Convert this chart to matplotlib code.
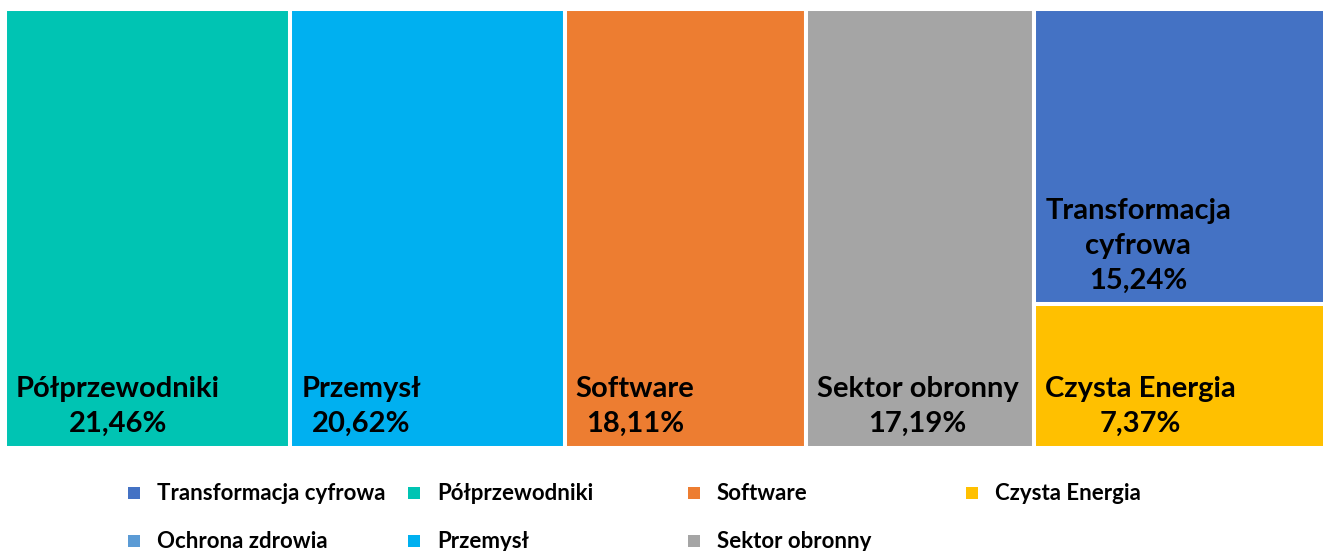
import matplotlib
matplotlib.use("Agg")
import matplotlib.pyplot as plt
from matplotlib.patches import Rectangle

plt.rcParams['font.family'] = ['Lato', 'DejaVu Sans']

# Data
categories = ["Półprzewodniki", "Przemysł", "Software", "Sektor obronny",
              "Transformacja cyfrowa", "Czysta Energia"]
values = [21.46, 20.62, 18.11, 17.19, 15.24, 7.37]
labels = ["Półprzewodniki", "Przemysł", "Software", "Sektor obronny",
          "Transformacja\ncyfrowa", "Czysta Energia"]
colors = ["#00C4B3", "#00B0F0", "#ED7D31", "#A5A5A5", "#4472C4", "#FFC000"]

legend_names = ["Transformacja cyfrowa", "Półprzewodniki", "Software", "Czysta Energia",
                "Ochrona zdrowia", "Przemysł", "Sektor obronny"]
legend_colors = ["#4472C4", "#00C4B3", "#ED7D31", "#FFC000",
                 "#5B9BD5", "#00B0F0", "#A5A5A5"]

W, H = 1323, 551
fig = plt.figure(figsize=(W / 100, H / 100), dpi=100)
left, right, top, bottom = 5, 1335, 8.5, 447.5
ax = fig.add_axes([left / W, 1 - bottom / H, (right - left) / W, (bottom - top) / H])
total = sum(values)
ax.set_xlim(0, total)
ax.set_ylim(0, 1)
ax.axis('off')

def fmt(v):
    return f"{v:.2f}".replace('.', ',') + "%"

x = 0.0
rects = []
for i in range(4):
    rects.append((x, 0, values[i], 1))
    x += values[i]
colw = values[4] + values[5]
h_bottom = values[5] / colw
rects.append((x, h_bottom, colw, 1 - h_bottom))
rects.append((x, 0, colw, h_bottom))

px_x = total / (right - left)
px_y = 1 / (bottom - top)
for (rx, ry, rw, rh), lab, v, c in zip(rects, labels, values, colors):
    ax.add_patch(Rectangle((rx, ry), rw, rh, facecolor=c, edgecolor='white', linewidth=2.9))
    ax.text(rx + 11 * px_x, ry + 11 * px_y, lab + "\n" + fmt(v), ha='left', va='bottom',
            multialignment='center', fontsize=21, fontweight='bold', color='black',
            linespacing=1.42)

col_x = [128, 408, 688, 966]
row_y = [493, 541]
for i, (name, c) in enumerate(zip(legend_names, legend_colors)):
    r, k = divmod(i, 4)
    mx, my = col_x[k], row_y[r]
    fig.patches.append(Rectangle((mx / W, 1 - (my + 6) / H), 12 / W, 12 / H,
                                 transform=fig.transFigure, facecolor=c, edgecolor='none'))
    fig.text((mx + 29) / W, 1 - my / H, name, ha='left', va='center',
             fontsize=16, fontweight='bold', color='black')

fig.savefig("out.png", dpi=100)
